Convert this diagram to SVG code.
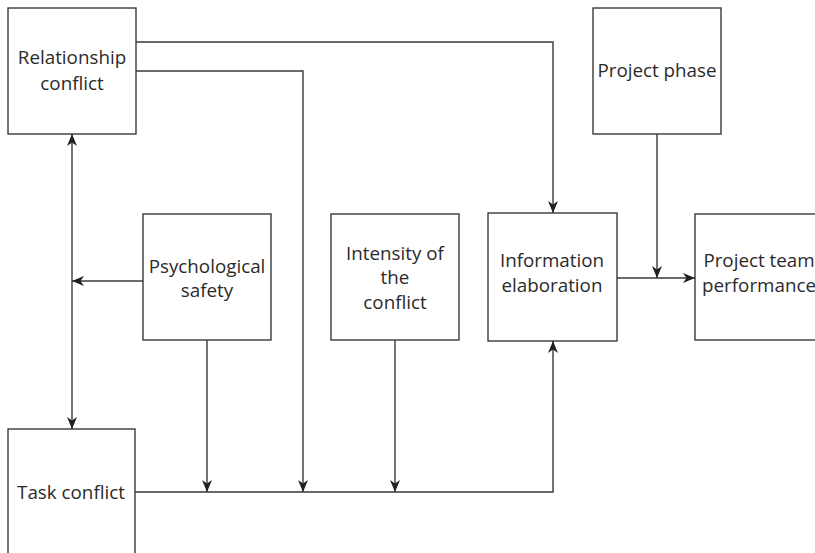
<svg xmlns="http://www.w3.org/2000/svg" width="815" height="553" viewBox="0 0 815 553">
  <style>
    .box { fill: #ffffff; stroke: #3a3a3a; stroke-width: 1.4; }
    .lbl { font-family: "Open Sans", "Noto Sans", sans-serif; font-size: 18.8px; fill: #2b2a2a; text-anchor: middle; }
    .wire { fill: none; stroke: #3a3a3a; stroke-width: 1.4; }
  </style>
  <defs>
    <marker id="arrow" markerUnits="userSpaceOnUse" markerWidth="12" markerHeight="10" viewBox="0 0 12 10" refX="12" refY="5" orient="auto-start-reverse">
      <path d="M0,0 L12,5 L0,10 L3.5,5 z" fill="#231f20"/>
    </marker>
  </defs>
  <rect width="815" height="553" fill="#ffffff"/>

  <g id="relationship-conflict">
    <rect class="box" x="8" y="8" width="128" height="126"/>
    <text class="lbl" x="72" y="64">Relationship</text>
    <text class="lbl" x="72" y="90">conflict</text>
  </g>

  <g id="project-phase">
    <rect class="box" x="593" y="8" width="128" height="126"/>
    <text class="lbl" x="657" y="77">Project phase</text>
  </g>

  <g id="psychological-safety">
    <rect class="box" x="143" y="214" width="128" height="126"/>
    <text class="lbl" x="207" y="273">Psychological</text>
    <text class="lbl" x="207" y="297">safety</text>
  </g>

  <g id="intensity">
    <rect class="box" x="331" y="214" width="128" height="126"/>
    <text class="lbl" x="395" y="260">Intensity of</text>
    <text class="lbl" x="395" y="284">the</text>
    <text class="lbl" x="395" y="309">conflict</text>
  </g>

  <g id="information-elaboration">
    <rect class="box" x="488" y="213" width="129" height="128"/>
    <text class="lbl" x="552" y="267">Information</text>
    <text class="lbl" x="552" y="292">elaboration</text>
  </g>

  <g id="project-team-performance">
    <rect class="box" x="695" y="214" width="128" height="126"/>
    <text class="lbl" x="759" y="267">Project team</text>
    <text class="lbl" x="759" y="292">performance</text>
  </g>

  <g id="task-conflict">
    <rect class="box" x="8" y="429" width="127" height="128"/>
    <text class="lbl" x="71" y="499">Task conflict</text>
  </g>

  <g id="connectors">
    <!-- relationship <-> task conflict -->
    <path class="wire" d="M72,134 L72,429" marker-start="url(#arrow)" marker-end="url(#arrow)"/>
    <!-- psychological safety to the relationship/task link -->
    <path class="wire" d="M143,281 L72,281" marker-end="url(#arrow)"/>
    <!-- relationship conflict to information elaboration -->
    <path class="wire" d="M136,42 L553,42 L553,213" marker-end="url(#arrow)"/>
    <!-- relationship conflict to task path -->
    <path class="wire" d="M136,71 L303,71 L303,492" marker-end="url(#arrow)"/>
    <!-- task conflict to information elaboration -->
    <path class="wire" d="M135,492 L553,492 L553,341" marker-end="url(#arrow)"/>
    <!-- moderators onto the task path -->
    <path class="wire" d="M207,340 L207,492" marker-end="url(#arrow)"/>
    <path class="wire" d="M395,340 L395,492" marker-end="url(#arrow)"/>
    <!-- information elaboration to performance -->
    <path class="wire" d="M617,278 L695,278" marker-end="url(#arrow)"/>
    <!-- project phase onto that link -->
    <path class="wire" d="M657,134 L657,278" marker-end="url(#arrow)"/>
  </g>
</svg>
